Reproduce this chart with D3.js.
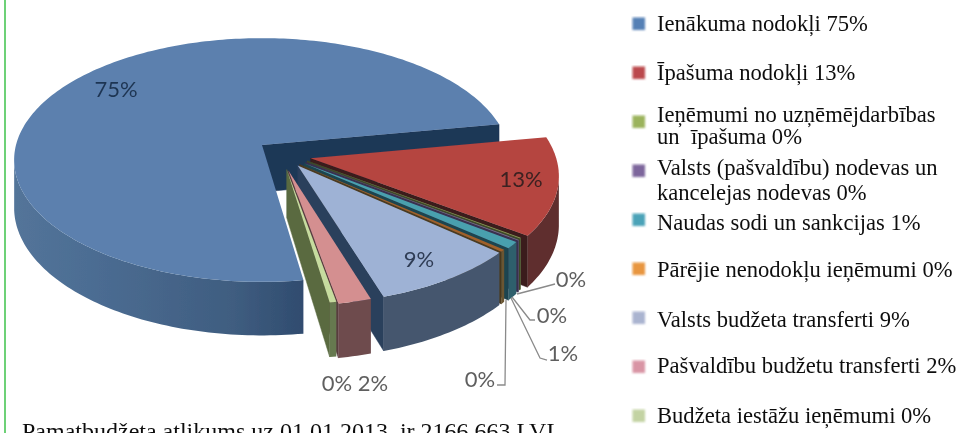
<!DOCTYPE html>
<html lang="lv">
<head>
<meta charset="utf-8">
<title>Pamatbudžeta ieņēmumi</title>
<script src="https://d3js.org/d3.v7.min.js"></script>
<style>
html, body { margin: 0; padding: 0; background: #fff; overflow: hidden; }
svg { display: block; }
</style>
</head>
<body>
<div id="chart"></div>
<script>
// values, the "0%" slices are small but not empty
const categories = ["Ienākuma nodokļi", "Īpašuma nodokļi", "Ieņēmumi no uzņēmējdarbības", "Valsts (pašvaldību) nodevas",
  "Naudas sodi un sankcijas", "Pārējie nenodokļu ieņēmumi", "Valsts budžeta transferti", "Pašvaldību budžetu transferti", "Budžeta iestāžu ieņēmumi"];
const values = [74.4, 12.9, 0.1, 0.1, 0.9, 0.3, 8.7, 2.0, 0.4];
const percentLabels = ["75%", "13%", "0%", "0%", "1%", "0%", "9%", "2%", "0%"];
const legendLines = [
  ["Ienākuma nodokļi 75%"],
  ["Īpašuma nodokļi 13%"],
  ["Ieņēmumi no uzņēmējdarbības", "un  īpašuma 0%"],
  ["Valsts (pašvaldību) nodevas un", "kancelejas nodevas 0%"],
  ["Naudas sodi un sankcijas 1%"],
  ["Pārējie nenodokļu ieņēmumi 0%"],
  ["Valsts budžeta transferti 9%"],
  ["Pašvaldību budžetu transferti 2%"],
  ["Budžeta iestāžu ieņēmumi 0%"]
];
const footerText = "Pamatbudžeta atlikums uz 01.01.2013. ir 2166 663 LVL";

// styles
const legendColors = ["#5580b5", "#bb4a4d", "#9bb35c", "#7d669c", "#4ba3b8", "#e8963f", "#aab4d0", "#d995a5", "#c3d3a3"];
const topColors = ["#5b80ae", "#b5443f", "#8a9a55", "#7a6a96", "#4aa0ae", "#a0602a", "#9eb2d5", "#d48f90", "#c6dc9f"];
const wallColors = ["#2f4b6e", "#5e2e2f", "#5b6a3f", "#54486a", "#2f5f6c", "#6b5530", "#44566e", "#6e4c4e", "#66794f"];
const faceColors = ["#1f3757", "#3a1d1f", "#3d4a2a", "#3a3050", "#1f4450", "#4a3a20", "#2b3f5c", "#5a3d3f", "#5a6a40"];
// how far each slice is pulled out, in radius fractions along the plane
const explodeU = [0, 0.195, 0.18, 0.175, 0.167, 0.15, 0.142, 0.105, 0.098];
const explodeV = [0, 0.108, 0.13, 0.14, 0.15, 0.16, 0.167, 0.21, 0.2];
const sliceRadius = [1, 0.985, 0.97, 0.97, 0.97, 0.97, 0.97, 0.94, 0.94];

const width = 978, height = 433;
const pieX = 262, pieY = 145, radiusX = 246, radiusY = 120, depth = 47, perspective = 0.123;

const svg = d3.select("#chart").append("svg")
  .attr("width", width).attr("height", height)
  .attr("viewBox", [0, 0, width, height]);

const defs = svg.append("defs");
defs.append("filter").attr("id", "soft").append("feGaussianBlur").attr("stdDeviation", 0.55);
defs.append("filter").attr("id", "softer").append("feGaussianBlur").attr("stdDeviation", 0.8);
defs.append("filter").attr("id", "textSoft").append("feGaussianBlur").attr("stdDeviation", 0.3);

// big slice wall goes from nearly the top colour on the left to dark on the right
const blueWall = defs.append("linearGradient").attr("id", "blueWall")
  .attr("gradientUnits", "userSpaceOnUse")
  .attr("x1", pieX - radiusX).attr("x2", pieX + 45).attr("y1", 0).attr("y2", 0);
blueWall.selectAll("stop").data([[0, "#537499"], [0.25, "#4c6d93"], [0.75, "#3f5d80"], [1, wallColors[0]]]).join("stop")
  .attr("offset", d => d[0]).attr("stop-color", d => d[1]);

svg.append("line").attr("x1", 5).attr("x2", 5).attr("y1", 0).attr("y2", height)
  .attr("stroke", "#3cc24a").attr("stroke-width", 1.5);

// pie plane to screen, z is how far down the side of the pie
function project(u, v, z) {
  const w = 1 - perspective * v;
  return [pieX + radiusX * u / w, pieY + (radiusY * v + z) / w];
}

// angle 0 is +u and angles run clockwise on screen, blue starts near the front
const slices = d3.pie().sort(null)
  .startAngle(81.5 * Math.PI / 180)
  .endAngle(441.5 * Math.PI / 180)(values);
const line = d3.line();
const pieG = svg.append("g").attr("filter", "url(#soft)");

function point(i, a, r, z) {
  const rr = r * sliceRadius[i];
  return project(explodeU[i] + rr * Math.cos(a), explodeV[i] + rr * Math.sin(a), z);
}

function drawSlice(d) {
  const i = d.index, a0 = d.startAngle, a1 = d.endAngle;
  const g = pieG.append("g");
  const steps = Math.max(2, Math.ceil((a1 - a0) / 0.02));
  const angles = d3.range(steps + 1).map(k => a0 + (a1 - a0) * k / steps);

  // cut faces, only the ones turned to the viewer
  [[a0, 1], [a1, -1]].forEach(([a, side]) => {
    const q = [point(i, a, 0, 0), point(i, a, 1, 0), point(i, a, 1, depth), point(i, a, 0, depth)];
    if (d3.polygonArea(q) * side > 0) {
      g.append("path").attr("d", line(q) + "Z").attr("fill", faceColors[i])
        .attr("stroke", faceColors[i]).attr("stroke-width", 0.5);
    }
  });

  // outer wall, keep only the part of the rim that faces the viewer
  const rim = angles.filter(a => {
    const b = a + 0.005;
    return d3.polygonArea([point(i, a, 1, 0), point(i, b, 1, 0), point(i, b, 1, depth), point(i, a, 1, depth)]) > 0;
  });
  if (rim.length > 1) {
    const wall = rim.map(a => point(i, a, 1, 0)).concat(rim.slice().reverse().map(a => point(i, a, 1, depth)));
    g.append("path").attr("d", line(wall) + "Z")
      .attr("fill", i === 0 ? "url(#blueWall)" : wallColors[i]);
  }

  // top of the slice
  const top = [point(i, a0, 0, 0)].concat(angles.map(a => point(i, a, 1, 0)));
  g.append("path").attr("d", line(top) + "Z").attr("fill", topColors[i]);
}

slices.forEach(drawSlice);

// labels sitting on the slices
const onPie = svg.append("g").attr("font-family", "Lato, 'Open Sans', sans-serif").attr("font-size", 22).attr("filter", "url(#textSoft)");
const labelAt = [
  { i: 0, x: 116, y: 97, fill: "#1f3552" },
  { i: 1, x: 521, y: 187, fill: "#3a2020" },
  { i: 6, x: 419, y: 267, fill: "#2f3c55" },
  { i: 3, x: 571, y: 287, fill: "#5f5f5f" },
  { i: 5, x: 552, y: 323, fill: "#5f5f5f" },
  { i: 4, x: 563, y: 361, fill: "#5f5f5f" },
  { i: 2, x: 480, y: 387, fill: "#5f5f5f" },
  { i: 8, x: 337, y: 391, fill: "#5f5f5f" },
  { i: 7, x: 373, y: 391, fill: "#5f5f5f" }
];
onPie.selectAll("text").data(labelAt).join("text")
  .attr("x", d => d.x).attr("y", d => d.y).attr("text-anchor", "middle")
  .attr("fill", d => d.fill).text(d => percentLabels[d.i]);

// leader lines for the thin slices
const leaders = [
  [[517, 294], [540, 288], [555, 284]],
  [[512, 297], [530, 320], [535, 320]],
  [[511, 298], [540, 358], [547, 360]],
  [[506, 300], [505, 385], [497, 385]]
];
svg.append("g").attr("filter", "url(#soft)").selectAll("path").data(leaders).join("path")
  .attr("d", line).attr("fill", "none").attr("stroke", "#8a8a8a").attr("stroke-width", 1.3);

// legend
const legendY = d3.scaleLinear().domain([0, categories.length - 1]).range([24, 416]);
const legendBaselines = [[31], [80], [122, 144], [175, 200], [230], [277], [327], [373], [423]];
const legend = svg.append("g").attr("font-family", "'Liberation Serif', serif").attr("font-size", 22.6).attr("fill", "#111");
legend.selectAll("rect").data(categories).join("rect")
  .attr("x", 632.5).attr("y", (d, i) => legendY(i) - 6.5).attr("width", 12.5).attr("height", 12.5)
  .attr("fill", (d, i) => legendColors[i]).attr("filter", "url(#softer)");
legendLines.forEach((lines, i) => {
  lines.forEach((t, k) => {
    legend.append("text").attr("x", 657).attr("y", legendBaselines[i][k])
      .attr("filter", "url(#textSoft)").style("white-space", "pre").text(t);
  });
});

// cut by the bottom edge, the same as in the picture
svg.append("text").attr("x", 22).attr("y", 439)
  .attr("font-family", "'Liberation Serif', serif").attr("font-size", 24).attr("fill", "#111")
  .attr("filter", "url(#textSoft)")
  .text(footerText);
</script>
</body>
</html>
